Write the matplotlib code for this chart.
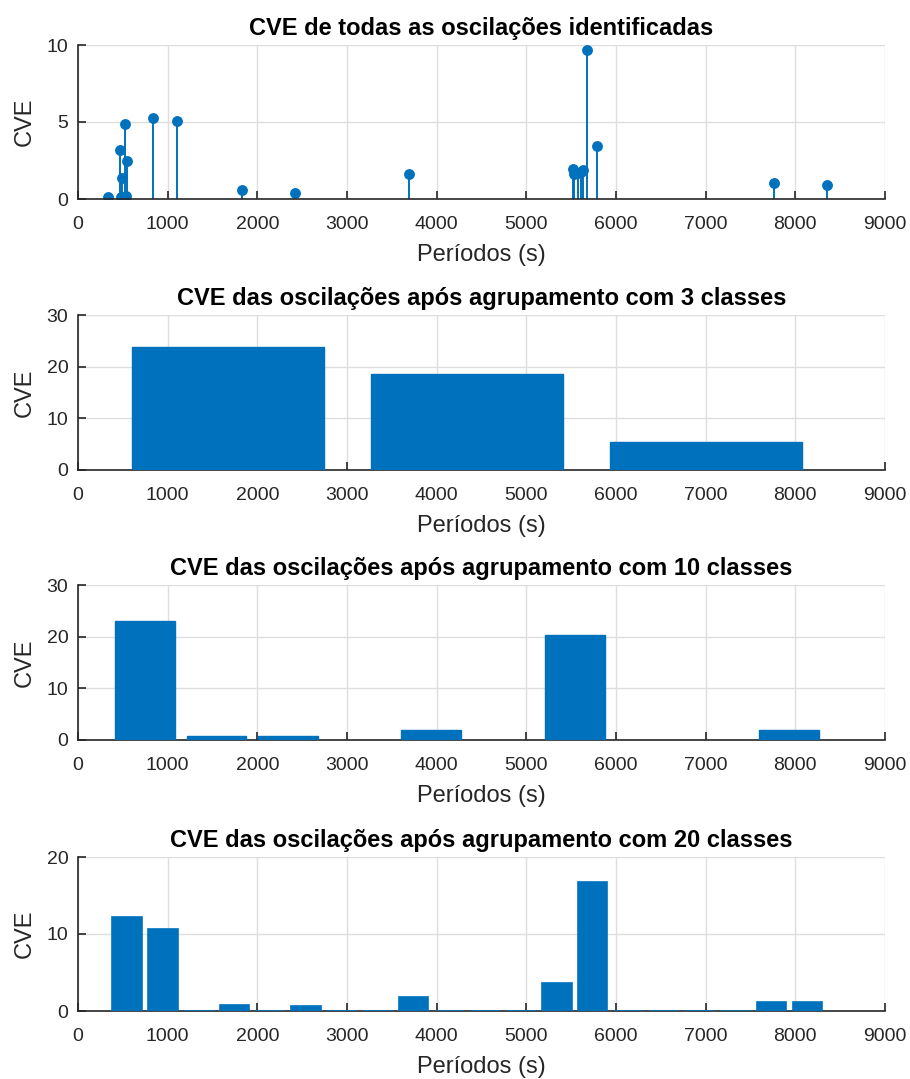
import matplotlib
matplotlib.use("Agg")
import matplotlib.pyplot as plt

plt.rcParams['font.family'] = ['Liberation Sans', 'DejaVu Sans']

# periodos (s) e CVE de cada oscilacao identificada
periodos = [333, 472, 483, 491, 528, 539, 547, 835, 1105, 1824, 2419, 3697,
            5515, 5533, 5578, 5607, 5637, 5681, 5789, 7767, 8348]
cve = [0.15, 3.16, 0.15, 1.35, 4.85, 0.2, 2.5, 5.27, 5.06, 0.61, 0.40, 1.62,
       1.98, 1.62, 1.67, 1.73, 1.88, 9.7, 3.46, 1.03, 0.93]

# agrupamento com 3 classes
centros_3 = [1675, 4340, 7005]
cve_3 = [23.8, 18.6, 5.45]
largura_3 = 2140

# agrupamento com 10 classes (so as classes nao vazias)
centros_10 = [745, 1545, 2345, 3940, 5540, 7930]
cve_10 = [23.0, 0.72, 0.72, 1.9, 20.4, 1.9]
largura_10 = 665

# agrupamento com 20 classes
centros_20 = [549, 948, 1347, 1747, 2146, 2545, 2944, 3343, 3743, 4142,
              4541, 4940, 5339, 5739, 6138, 6537, 6936, 7335, 7735, 8134]
cve_20 = [12.26, 10.64, 0, 0.81, 0, 0.6, 0, 0, 1.84, 0,
          0, 0, 3.63, 16.8, 0, 0, 0, 0, 1.2, 1.2]
largura_20 = 330

azul = '#0072BD'
cinza = '#262626'

fig = plt.figure(figsize=(9.1, 10.79), dpi=100)
W, H = 910, 1079


def eixo(top, bottom):
    return fig.add_axes([78 / W, (H - bottom) / H, 807 / W, (bottom - top) / H])


def formatar(ax, titulo, yticks):
    ax.set_xlim(0, 9000)
    ax.set_xticks(range(0, 9001, 1000))
    ax.set_ylim(yticks[0], yticks[-1])
    ax.set_yticks(yticks)
    ax.grid(True, color='#dedede', linewidth=1)
    ax.set_axisbelow(True)
    for lado in ['top', 'right']:
        ax.spines[lado].set_visible(False)
    for lado in ['left', 'bottom']:
        ax.spines[lado].set_color(cinza)
        ax.spines[lado].set_linewidth(1.2)
    ax.tick_params(direction='in', length=6, width=1.2, colors=cinza,
                   labelsize=14, labelcolor=cinza)
    ax.tick_params(axis='x', pad=12)
    ax.tick_params(axis='y', pad=7)
    ax.set_xlabel('Períodos (s)', fontsize=17, color=cinza, labelpad=8)
    ax.set_ylabel('CVE', fontsize=17, color=cinza, labelpad=8)
    ax.set_title(titulo, fontsize=17, fontweight='bold', color='black', pad=7)


ax1 = eixo(45, 199)
ml, sl, bl = ax1.stem(periodos, cve, basefmt=' ')
plt.setp(sl, color=azul, linewidth=1.4)
plt.setp(ml, color=azul, markersize=6.8)
formatar(ax1, 'CVE de todas as oscilações identificadas', [0, 5, 10])

ax2 = eixo(315, 470)
ax2.bar(centros_3, cve_3, width=largura_3, color=azul, edgecolor=azul,
        linewidth=1, zorder=3)
formatar(ax2, 'CVE das oscilações após agrupamento com 3 classes', [0, 10, 20, 30])

ax3 = eixo(585, 740)
ax3.bar(centros_10, cve_10, width=largura_10, color=azul, edgecolor=azul,
        linewidth=1, zorder=3)
formatar(ax3, 'CVE das oscilações após agrupamento com 10 classes', [0, 10, 20, 30])

ax4 = eixo(857, 1011)
ax4.bar(centros_20, cve_20, width=largura_20, color=azul, edgecolor=azul,
        linewidth=1.2, zorder=3)
formatar(ax4, 'CVE das oscilações após agrupamento com 20 classes', [0, 10, 20])

fig.savefig('out.png', dpi=100, facecolor='white')
